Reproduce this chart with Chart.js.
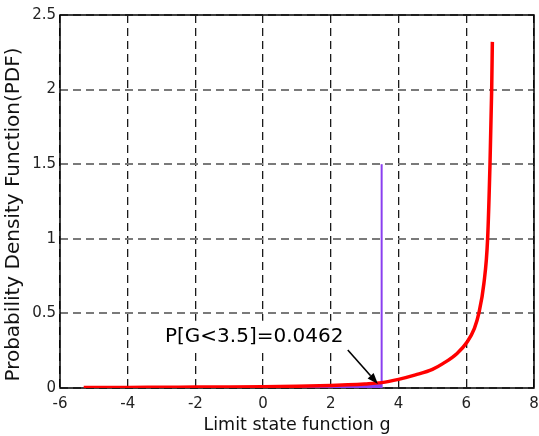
<!DOCTYPE html>
<html>
<head>
<meta charset="utf-8">
<title>PDF of limit state function</title>
<script src="https://cdn.jsdelivr.net/npm/chart.js@4.4.1/dist/chart.umd.min.js"></script>
<style>
    html, body { margin: 0; padding: 0; background: #fff; }
    #chart { display: block; }
</style>
</head>
<body>
<canvas id="chart" width="539" height="436"></canvas>
<script>
// Limit state function g and its PDF
const limitStateG = [-5.3, -4, -3, -2, -1, 0, 1, 2, 2.5, 3, 3.5, 4, 4.5, 5, 5.32, 5.72, 6.03, 6.24, 6.37, 6.52, 6.63, 6.70, 6.75, 6.77];
const pdfValues = [0.003, 0.004, 0.005, 0.006, 0.007, 0.009, 0.012, 0.017, 0.021, 0.027, 0.036, 0.058, 0.088, 0.125, 0.165, 0.23, 0.31, 0.40, 0.5, 0.7, 1.0, 1.5, 2.0, 2.32];

// Threshold marker at g = 3.5
const thresholdG = [3.5, 3.5];
const thresholdPdf = [0, 1.5];

// Axis ticks
const xTicks = [-6, -4, -2, 0, 2, 4, 6, 8];
const yTicks = [0, 0.5, 1, 1.5, 2, 2.5];

// Texts
const xTitle = 'Limit state function g';
const yTitle = 'Probability Density Function(PDF)';
const annotationText = 'P[G<3.5]=0.0462';

// Annotation anchors (data coordinates)
const labelAt = { g: -2.9, pdf: 0.31 };
const arrowFrom = { g: 2.5, pdf: 0.255 };
const arrowTo = { g: 3.39, pdf: 0.027 };

const FONT = "'DejaVu Sans', 'Liberation Sans', sans-serif";
const RED = '#ff0000';
const PURPLE = '#8a3ff0';

const toPoints = (xs, ys) => xs.map((x, i) => ({ x, y: ys[i] }));
const curve = toPoints(limitStateG, pdfValues);
const failureArea = curve.filter(p => p.x <= thresholdG[0]);

const extras = {
    id: 'extras',
    beforeDraw: function(chart) {
        const { ctx } = chart;
        ctx.save();
        ctx.fillStyle = '#fff';
        ctx.fillRect(0, 0, chart.width, chart.height);
        ctx.restore();
    },
    beforeDatasetsDraw: function(chart) {
        // Axes box
        const { ctx, chartArea: a } = chart;
        ctx.save();
        ctx.strokeStyle = '#000';
        ctx.lineWidth = 1.5;
        ctx.strokeRect(a.left, a.top, a.right - a.left, a.bottom - a.top);
        ctx.restore();
    },
    afterDatasetsDraw: function(chart) {
        const { ctx, scales: { x, y } } = chart;
        ctx.save();

        // Probability label on a white patch (hides the grid behind it)
        const tx = x.getPixelForValue(labelAt.g);
        const ty = y.getPixelForValue(labelAt.pdf);
        ctx.font = `20px ${FONT}`;
        const tw = ctx.measureText(annotationText).width;
        ctx.fillStyle = '#fff';
        ctx.fillRect(tx - 3, ty - 21, tw + 6, 28);
        ctx.fillStyle = '#000';
        ctx.textBaseline = 'alphabetic';
        ctx.textAlign = 'left';
        ctx.fillText(annotationText, tx, ty);

        // Arrow
        const x1 = x.getPixelForValue(arrowFrom.g), y1 = y.getPixelForValue(arrowFrom.pdf);
        const x2 = x.getPixelForValue(arrowTo.g), y2 = y.getPixelForValue(arrowTo.pdf);
        const ang = Math.atan2(y2 - y1, x2 - x1);
        const head = 11, half = 4;
        ctx.strokeStyle = '#000';
        ctx.lineWidth = 1.6;
        ctx.beginPath();
        ctx.moveTo(x1, y1);
        ctx.lineTo(x2 - head * Math.cos(ang), y2 - head * Math.sin(ang));
        ctx.stroke();
        ctx.beginPath();
        ctx.moveTo(x2, y2);
        ctx.lineTo(x2 - head * Math.cos(ang) + half * Math.sin(ang), y2 - head * Math.sin(ang) - half * Math.cos(ang));
        ctx.lineTo(x2 - head * Math.cos(ang) - half * Math.sin(ang), y2 - head * Math.sin(ang) + half * Math.cos(ang));
        ctx.closePath();
        ctx.fill();
        ctx.restore();
    },
    afterDraw: function(chart) {
        // Y axis title
        const { ctx, chartArea: a } = chart;
        ctx.save();
        ctx.translate(19, (a.top + a.bottom) / 2 + 13);
        ctx.rotate(-Math.PI / 2);
        ctx.font = `20px ${FONT}`;
        ctx.fillStyle = '#111';
        ctx.textAlign = 'center';
        ctx.textBaseline = 'alphabetic';
        ctx.fillText(yTitle, 0, 0);
        ctx.restore();
    }
};

new Chart(document.getElementById('chart'), {
    type: 'line',
    data: {
        datasets: [
            {
                label: 'PDF',
                data: curve,
                borderColor: RED,
                borderWidth: 3.5,
                pointRadius: 0,
                cubicInterpolationMode: 'monotone',
                fill: false,
                order: 0
            },
            {
                label: 'Threshold',
                data: toPoints(thresholdG, thresholdPdf),
                borderColor: PURPLE,
                borderWidth: 2,
                pointRadius: 0,
                fill: false,
                order: 1
            },
            {
                label: 'P[G<3.5]',
                data: failureArea,
                borderWidth: 0,
                borderColor: PURPLE,
                backgroundColor: PURPLE,
                pointRadius: 0,
                cubicInterpolationMode: 'monotone',
                fill: 'origin',
                order: 2
            }
        ]
    },
    options: {
        responsive: false,
        animation: false,
        devicePixelRatio: 1,
        layout: { padding: { top: 15, right: 5, left: 0, bottom: 0 } },
        plugins: {
            legend: { display: false },
            tooltip: { enabled: false }
        },
        scales: {
            x: {
                type: 'linear',
                min: xTicks[0],
                max: xTicks[xTicks.length - 1],
                afterBuildTicks: scale => { scale.ticks = xTicks.map(value => ({ value })); },
                afterFit: scale => {
                    scale.height = 48;
                    scale.paddingLeft = 0;
                    scale.paddingRight = 0;
                },
                grid: { color: '#1a1a1a', lineWidth: 1.3, drawTicks: false },
                border: { display: false, dash: [8, 5] },
                ticks: { color: '#222', padding: 7, font: { family: FONT, size: 15 } },
                title: {
                    display: true,
                    text: xTitle,
                    color: '#111',
                    padding: { top: 0, bottom: 0 },
                    font: { family: FONT, size: 17.5 }
                }
            },
            y: {
                min: yTicks[0],
                max: yTicks[yTicks.length - 1],
                afterBuildTicks: scale => { scale.ticks = yTicks.map(value => ({ value })); },
                afterFit: scale => { scale.width = 60; },
                grid: { color: '#7a7a7a', lineWidth: 2, drawTicks: false },
                border: { display: false, dash: [8, 5] },
                ticks: {
                    color: '#222',
                    padding: 4,
                    font: { family: FONT, size: 15 },
                    callback: value => String(value)
                }
            }
        }
    },
    plugins: [extras]
});
</script>
</body>
</html>
